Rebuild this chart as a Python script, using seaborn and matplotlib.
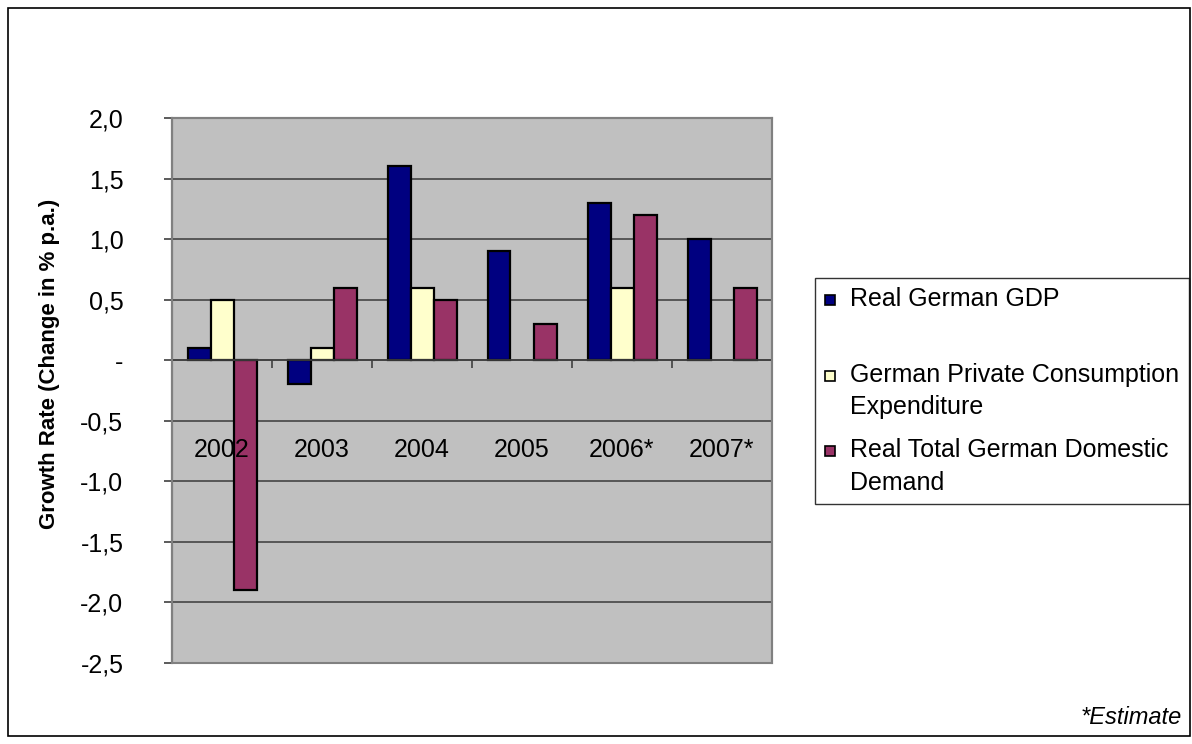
import numpy as np
import pandas as pd
import matplotlib
matplotlib.use("Agg")
import matplotlib.pyplot as plt
from matplotlib.patches import Rectangle
from matplotlib.lines import Line2D
import seaborn as sns

# Data: annual growth rates (change in % p.a.)
years = ["2002", "2003", "2004", "2005", "2006*", "2007*"]
gdp = [0.1, -0.2, 1.6, 0.9, 1.3, 1.0]
consumption = [0.5, 0.1, 0.6, np.nan, 0.6, np.nan]
domestic_demand = [-1.9, 0.6, 0.5, 0.3, 1.2, 0.6]

series_names = [
    "Real German GDP",
    "German Private Consumption Expenditure",
    "Real Total German Domestic Demand",
]
legend_labels = [
    "Real German GDP\n",
    "German Private Consumption\nExpenditure",
    "Real Total German Domestic\nDemand",
]
series_colors = ["#000080", "#FFFFCC", "#993366"]
y_ticks = [-2.5, -2.0, -1.5, -1.0, -0.5, 0.0, 0.5, 1.0, 1.5, 2.0]

df = pd.DataFrame({
    "year": years * 3,
    "series": [series_names[0]] * 6 + [series_names[1]] * 6 + [series_names[2]] * 6,
    "value": gdp + consumption + domestic_demand,
})

sns.set_theme(style="white")
plt.rcParams["font.family"] = ["Liberation Sans", "DejaVu Sans"]
plt.rcParams["text.color"] = "black"
plt.rcParams["xtick.labelcolor"] = "black"
plt.rcParams["ytick.labelcolor"] = "black"

W, H = 1192, 744
fig = plt.figure(figsize=(W / 100, H / 100), dpi=100)
ax = fig.add_axes([172 / W, 1 - 663 / H, 600 / W, 545 / H])
ax.set_facecolor("#C0C0C0")

sns.barplot(
    data=df, x="year", y="value", hue="series",
    order=years, hue_order=series_names, palette=series_colors, saturation=1,
    edgecolor="black", linewidth=1.6, width=0.69, gap=0,
    errorbar=None, legend=False, ax=ax, zorder=3,
)

ax.set_ylim(-2.5, 2.0)
ax.set_xlim(-0.5, len(years) - 0.5)
ax.set_yticks(y_ticks)
ax.set_yticklabels(["-" if v == 0 else f"{v:.1f}".replace(".", ",") for v in y_ticks],
                   fontsize=18, color="black")
ax.yaxis.grid(True, color="#3a3a3a", linewidth=1.1, zorder=1)
ax.set_axisbelow(True)

# Category axis sits on the zero line, with ticks between categories
ax.spines["bottom"].set_position(("data", 0))
ax.spines["bottom"].set_color("#404040")
ax.spines["bottom"].set_linewidth(1.2)
ax.spines["bottom"].set_zorder(4)
ax.set_xticks(np.arange(-0.5, len(years), 1.0))
ax.set_xticklabels([])
ax.tick_params(axis="x", direction="out", length=6, width=1.2, color="#404040", bottom=True)
ax.tick_params(axis="y", direction="out", length=6, width=1.2, color="#404040", left=True, pad=29)
for i, yr in enumerate(years):
    ax.text(i, -0.742, yr, ha="center", va="center", fontsize=18, color="black")

for side in ["top", "right"]:
    ax.spines[side].set_color("#808080")
    ax.spines[side].set_linewidth(1.5)
ax.spines["left"].set_color("#404040")
ax.spines["left"].set_linewidth(1.5)
ax.add_patch(Rectangle((0, 0), 1, 1, transform=ax.transAxes, fill=False,
                       edgecolor="#808080", linewidth=1.5, zorder=5, clip_on=False))

ax.set_xlabel("")
ax.set_ylabel("")
fig.text(50 / W, 1 - 364 / H, "Growth Rate (Change in % p.a.)", rotation=90,
         ha="center", va="center", fontsize=16, fontweight="bold", color="black")

# Legend with square swatches next to the first line of each entry
handles = [Line2D([], [], linestyle="none", marker="s", markersize=7,
                  markerfacecolor=c, markeredgecolor="black", markeredgewidth=1.2)
           for c in series_colors]
leg = fig.legend(handles, legend_labels, loc="upper left",
                 bbox_to_anchor=(815 / W, 1 - 278 / H - 0.01, 374 / W, 0.01), mode="expand",
                 frameon=True, fancybox=False, edgecolor="black", fontsize=18,
                 labelcolor="black",
                 handlelength=0.5, handleheight=1.85, handletextpad=0.53,
                 labelspacing=0.77, borderpad=0.35, borderaxespad=0)
leg.get_frame().set_linewidth(1.0)
for t in leg.get_texts():
    t.set_linespacing(1.45)
for col in leg._legend_handle_box.get_children():
    for item in col.get_children():
        item.align = "top"

fig.text(1182 / W, 1 - 718 / H, "*Estimate", ha="right", va="center",
         fontsize=17, style="italic", color="black")

# Outer chart border
fig.add_artist(Rectangle((8 / W, 1 - 736 / H), 1182 / W, 728 / H,
                         transform=fig.transFigure, fill=False, edgecolor="black",
                         linewidth=1.2))

fig.savefig("out.png", dpi=100, facecolor="white")
